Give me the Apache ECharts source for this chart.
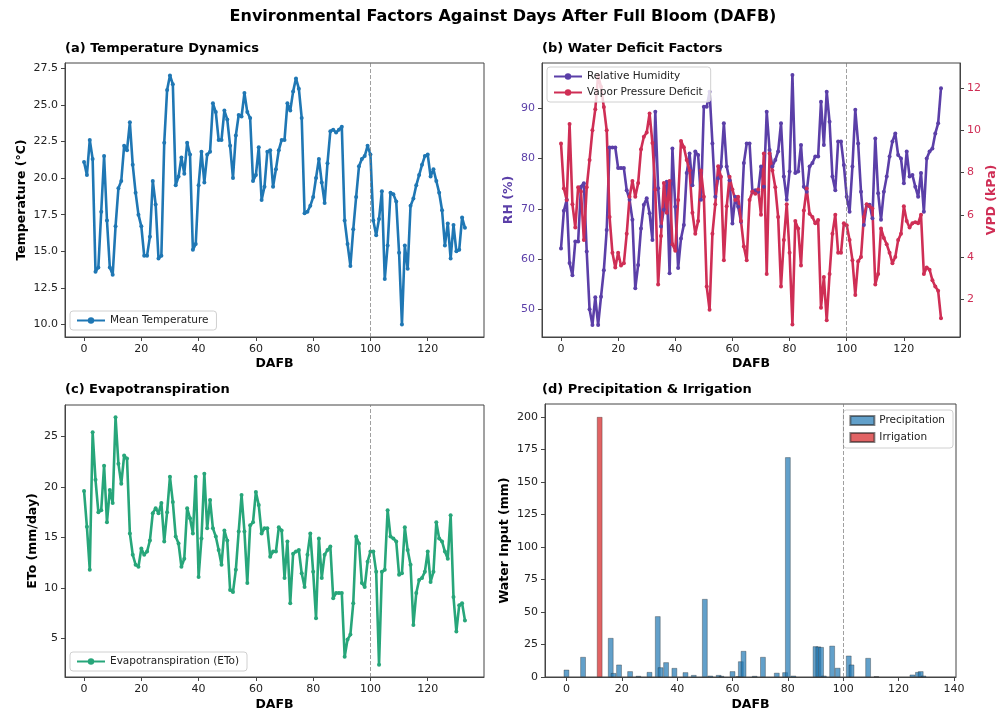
<!DOCTYPE html>
<html><head><meta charset="utf-8">
<script src="https://cdn.jsdelivr.net/npm/echarts@6/dist/echarts.min.js"></script>
<style>html,body{margin:0;padding:0;background:#fff}#c{width:1006px;height:713px}</style>
</head><body><div id="c"></div>
<script>
// ---- data ----
const TEMP = [21.1,20.2,22.6,21.3,13.6,13.9,17.7,21.5,17.1,13.9,
13.4,16.7,19.3,19.8,22.2,21.9,23.8,20.9,19.0,17.5,
16.7,14.7,14.7,16.0,19.8,18.2,14.5,14.7,22.4,26.0,
27.0,26.4,19.5,20.1,21.4,20.3,22.4,21.6,15.1,15.5,
19.5,21.8,19.7,21.6,21.8,25.1,24.5,22.6,22.6,24.6,
24.0,22.2,20.0,22.9,24.3,24.2,25.8,24.5,24.1,19.8,
20.2,22.1,18.5,19.4,21.8,21.9,19.4,20.6,21.9,22.6,
22.6,25.1,24.6,25.9,26.8,26.1,24.1,17.6,17.7,18.1,
18.7,20.0,21.3,19.7,18.3,21.0,23.2,23.3,23.1,23.3,
23.5,17.1,15.5,14.0,16.5,18.7,20.8,21.3,21.5,22.2,
21.6,17.1,16.1,17.2,19.1,13.1,15.4,19.0,18.9,18.4,
14.9,10.0,15.4,13.8,18.1,18.6,19.5,20.2,20.9,21.5,
21.6,20.1,20.6,19.8,19.0,17.8,15.4,16.9,14.5,16.8,
15.0,15.1,17.3,16.6];
const RH = [62.1,69.6,71.8,59.2,56.8,63.5,63.5,74.4,75.1,61.5,
50.0,46.9,52.4,46.9,52.5,57.8,65.8,82.2,82.2,82.2,
78.1,78.1,78.1,73.7,71.8,67.8,54.2,58.8,66.1,70.8,
72.1,69.1,63.8,89.3,74.1,66.5,69.8,75.4,57.2,82.0,
70.4,58.2,64.1,66.8,77.1,81.0,74.7,81.4,80.7,71.8,
90.3,90.3,93.3,83.0,72.4,76.1,78.4,87.0,78.4,75.7,
67.1,72.4,70.4,67.4,79.1,83.0,83.0,73.4,73.7,73.4,
78.4,74.4,89.3,81.7,78.4,79.7,81.4,87.0,76.4,71.8,
77.4,96.6,77.1,77.4,82.7,74.4,73.4,78.4,79.1,80.4,
80.4,91.3,82.7,93.3,87.3,76.4,73.7,83.4,83.4,78.7,
72.4,69.4,78.4,89.7,83.0,73.4,66.8,70.8,70.8,68.1,
84.0,73.1,67.8,73.4,76.4,80.4,83.4,85.0,80.7,80.0,
75.1,81.4,76.4,76.7,74.4,72.4,77.1,69.4,80.0,81.4,
82.0,85.0,87.0,94.0];
const VPD = [9.38,7.25,6.7,10.3,6.5,5.4,7.3,7.1,4.8,7.3,
8.6,10.0,11.0,12.6,12.06,11.1,10.0,5.9,4.2,3.5,
4.2,3.6,3.7,5.1,6.85,7.6,6.85,7.5,9.1,9.7,
9.9,10.8,9.4,7.2,2.7,5.0,7.5,6.1,7.6,4.6,
4.3,6.7,9.5,9.2,8.6,8.1,6.1,5.1,5.7,8.1,
6.85,2.6,1.5,5.1,6.5,8.3,7.8,3.85,6.4,7.8,
7.2,6.7,6.85,5.7,4.5,3.85,6.7,7.1,7.0,7.2,
6.0,8.9,3.2,8.9,8.1,7.3,5.9,2.6,4.8,6.5,
4.2,0.8,5.7,5.35,3.6,6.2,7.25,6.05,5.9,5.6,
5.75,1.6,3.05,1.0,3.2,5.1,6.0,4.2,4.2,5.6,
5.5,4.8,3.85,2.2,3.8,4.0,5.9,6.5,6.4,6.3,
2.7,3.2,5.35,4.9,4.6,4.2,3.7,4.0,4.8,5.1,
6.4,5.7,5.4,5.6,5.65,5.6,6.0,3.2,3.5,3.4,
2.9,2.6,2.4,1.1];
const ETO = [19.6,16.05,11.8,25.4,20.7,17.5,17.7,22.1,16.5,19.7,
18.4,26.9,22.3,20.3,23.1,22.8,15.4,13.3,12.3,12.1,
13.9,13.3,13.6,14.7,17.4,17.9,17.4,18.4,14.6,17.5,
21.0,18.5,15.1,14.4,12.1,12.9,17.9,16.9,15.4,21.0,
11.1,14.9,21.3,15.9,18.7,15.9,15.1,13.75,12.3,15.7,
14.7,9.8,9.6,11.8,15.6,19.2,15.6,10.5,16.2,16.5,
19.5,18.2,15.4,15.9,15.9,13.1,13.6,13.6,16.0,15.7,
11.0,14.6,8.5,13.4,13.6,13.75,11.45,10.1,13.3,15.4,
11.6,7.0,14.9,11.0,13.3,13.75,14.1,9.0,9.5,9.5,
9.5,3.2,4.9,5.4,8.5,15.1,14.4,10.5,10.1,12.6,
13.6,13.6,11.6,2.4,11.6,11.8,17.7,15.1,14.9,14.6,
11.3,11.45,16.0,13.75,12.3,6.35,9.5,10.8,11.0,11.6,
13.6,10.6,11.6,16.5,14.9,14.6,13.6,12.9,17.2,9.1,
5.7,8.3,8.5,6.8];
const PRECIP_DAYS = [0,6,16,17,19,23,26,30,33,34,36,39,43,46,50,52,55,56,60,62,63,64,68,71,76,79,80,82,90,91,92,93,96,98,102,103,109,112,125,127,128,129];
const PRECIP_MM   = [5.6,15.4,30,3,9.5,4.4,0.8,3.8,46.7,7.4,11.3,6.9,3.6,1.5,60,1,1.5,0.8,4.4,0.5,12,20,0.8,15.4,3.2,3.6,169,1,23.6,23.4,23,1,24,7,16.4,9.5,14.6,0.5,1.8,3.8,4.4,1];
const IRRIG_DAYS = [12];
const IRRIG_MM   = [200];
const MARK_DAY = 100;
const DAY_TICKS = [0,20,40,60,80,100,120];
const DAY_TICKS_D = [0,20,40,60,80,100,120,140];
const TEMP_TICKS = [10,12.5,15,17.5,20,22.5,25,27.5];
const RH_TICKS = [50,60,70,80,90];
const VPD_TICKS = [2,4,6,8,10,12];
const ETO_TICKS = [5,10,15,20,25];
const WATER_TICKS = [0,25,50,75,100,125,150,175,200];

// ---- build ----
const FONT = 'DejaVu Sans';
const C_TEMP = '#1f77b4', C_RH = '#5b3fa8', C_VPD = '#cf2e55', C_ETO = '#27a67a';
const pairs = (ys) => ys.map((v, i) => [i, v]);
const sparse = (ds, vs) => ds.map((d, i) => [d, vs[i]]);
const fmtIn = (ticks, f) => (v) => ticks.some(t => Math.abs(t - v) < 1e-6) ? f(v) : '';

function xAx(gi, min, max, ticks, gap) {
  return {type:'value', gridIndex:gi, min, max,
    name:'DAFB', nameLocation:'middle', nameGap:gap,
    nameTextStyle:{fontFamily:FONT, fontWeight:'bold', fontSize:12.5, color:'#000'},
    axisLine:{show:true, onZero:false, lineStyle:{color:'#444', width:1}},
    axisTick:{show:true, length:4, customValues:ticks, lineStyle:{color:'#444'}},
    axisLabel:{customValues:ticks, margin:7, fontFamily:FONT, fontSize:11, color:'#222',
      formatter: fmtIn(ticks, v => String(v))},
    splitLine:{show:false}};
}
function yAx(gi, pos, min, max, ticks, name, gap, color, f) {
  return {type:'value', gridIndex:gi, position:pos, min, max,
    name, nameLocation:'middle', nameGap:gap,
    nameTextStyle:{fontFamily:FONT, fontWeight:'bold', fontSize:12.5, color:color || '#000'},
    axisLine:{show:true, onZero:false, lineStyle:{color:'#444', width:1}},
    axisTick:{show:true, length:4, customValues:ticks, lineStyle:{color:'#444'}},
    axisLabel:{customValues:ticks, margin:7, fontFamily:FONT, fontSize:11, color:color || '#222',
      formatter: fmtIn(ticks, f || (v => String(v)))},
    splitLine:{show:false}};
}
const markLine100 = {silent:true, symbol:['none','none'], label:{show:false},
  lineStyle:{color:'rgba(120,120,120,0.7)', type:'dashed', width:1},
  data:[{xAxis:MARK_DAY}]};
function lineS(name, data, color, xi, yi, ml) {
  const s = {type:'line', name, data, xAxisIndex:xi, yAxisIndex:yi,
    symbol:'circle', symbolSize:4, showSymbol:true,
    lineStyle:{color, width:2.6}, itemStyle:{color}};
  if (ml) s.markLine = markLine100;
  return s;
}
const legendBase = {textStyle:{fontFamily:FONT, fontSize:10.5, color:'#222'},
  backgroundColor:'rgba(255,255,255,0.8)', borderColor:'#d0d0d0', borderWidth:1, borderRadius:3,
  orient:'vertical', itemGap:3};

const option = {
  animation:false,
  backgroundColor:'#fff',
  title:[
    {text:'Environmental Factors Against Days After Full Bloom (DAFB)', left:'center', top:9, padding:0,
      textStyle:{fontFamily:FONT, fontSize:16, fontWeight:'bold', color:'#000'}},
    {text:'(a) Temperature Dynamics', left:65, top:42, padding:0, textStyle:{fontFamily:FONT, fontSize:13, fontWeight:'bold', color:'#000'}},
    {text:'(b) Water Deficit Factors', left:542, top:42, padding:0, textStyle:{fontFamily:FONT, fontSize:13, fontWeight:'bold', color:'#000'}},
    {text:'(c) Evapotranspiration', left:65, top:383, padding:0, textStyle:{fontFamily:FONT, fontSize:13, fontWeight:'bold', color:'#000'}},
    {text:'(d) Precipitation & Irrigation', left:542, top:383, padding:0, textStyle:{fontFamily:FONT, fontSize:13, fontWeight:'bold', color:'#000'}}
  ],
  grid:[
    {left:65, top:63, width:419, height:274, show:true, borderColor:'#444', borderWidth:1},
    {left:542, top:63, width:418, height:274, show:true, borderColor:'#444', borderWidth:1},
    {left:65, top:405, width:419, height:272, show:true, borderColor:'#444', borderWidth:1},
    {left:545, top:404, width:411, height:273, show:true, borderColor:'#444', borderWidth:1}
  ],
  xAxis:[
    xAx(0, -6.65, 139.65, DAY_TICKS, 20),
    xAx(1, -6.65, 139.65, DAY_TICKS, 20),
    xAx(2, -6.65, 139.65, DAY_TICKS, 21),
    xAx(3, -7.75, 140.75, DAY_TICKS_D, 21)
  ],
  yAxis:[
    yAx(0, 'left', 9.15, 27.85, TEMP_TICKS, 'Temperature (°C)', 37, null, v => v.toFixed(1)),
    yAx(1, 'left', 44.5, 99.0, RH_TICKS, 'RH (%)', 27, C_RH),
    yAx(1, 'right', 0.21, 13.19, VPD_TICKS, 'VPD (kPa)', 23, C_VPD),
    yAx(2, 'left', 1.2, 28.1, ETO_TICKS, 'ETo (mm/day)', 26, null),
    yAx(3, 'left', 0, 210, WATER_TICKS, 'Water Input (mm)', 34, null)
  ],
  legend:[
    Object.assign({}, legendBase, {data:['Mean Temperature'], left:70, top:311, padding:[4,8,4,6], itemWidth:28, itemHeight:8}),
    Object.assign({}, legendBase, {data:['Relative Humidity','Vapor Pressure Deficit'], left:547, top:67, padding:[4,8,4,6], itemWidth:28, itemHeight:8, itemGap:5}),
    Object.assign({}, legendBase, {data:['Evapotranspiration (ETo)'], left:70, top:652, padding:[4,8,4,6], itemWidth:28, itemHeight:8}),
    Object.assign({}, legendBase, {data:[{name:'Precipitation', icon:'rect'},{name:'Irrigation', icon:'rect'}], right:53, top:410, padding:[5,8,5,6], itemWidth:24, itemHeight:9, itemGap:6})
  ],
  series:[
    lineS('Mean Temperature', pairs(TEMP), C_TEMP, 0, 0, true),
    lineS('Relative Humidity', pairs(RH), C_RH, 1, 1, true),
    lineS('Vapor Pressure Deficit', pairs(VPD), C_VPD, 1, 2, false),
    lineS('Evapotranspiration (ETo)', pairs(ETO), C_ETO, 2, 3, true),
    {type:'bar', name:'Precipitation', xAxisIndex:3, yAxisIndex:4, data:sparse(PRECIP_DAYS, PRECIP_MM),
      barWidth:5.5, barGap:'-100%',
      itemStyle:{color:'rgba(31,119,180,0.7)', borderColor:'rgba(30,30,30,0.55)', borderWidth:0.6},
      markLine:markLine100},
    {type:'bar', name:'Irrigation', xAxisIndex:3, yAxisIndex:4, data:sparse(IRRIG_DAYS, IRRIG_MM),
      barWidth:5.5, barGap:'-100%',
      itemStyle:{color:'rgba(214,39,40,0.72)', borderColor:'rgba(30,30,30,0.55)', borderWidth:0.6}}
  ]
};
echarts.init(document.getElementById('c'), null, {renderer:'canvas'}).setOption(option);
</script>
</body></html>
